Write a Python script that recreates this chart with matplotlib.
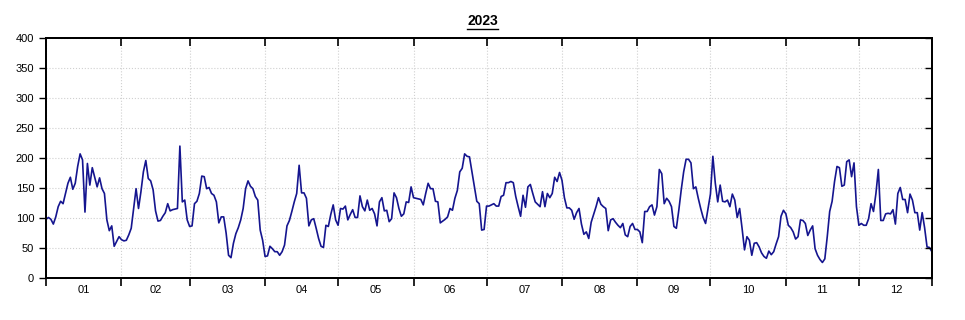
import numpy as np
import pandas as pd
import matplotlib
matplotlib.use("Agg")
import matplotlib.pyplot as plt
from matplotlib.lines import Line2D

year = 2023
title = "2023"
month_labels = ["01", "02", "03", "04", "05", "06", "07", "08", "09", "10", "11", "12"]

jan = [98, 101, 98, 90, 102, 119, 128, 124, 141, 158, 168, 148, 158, 186, 207, 197,
       110, 191, 155, 184, 168, 152, 167, 149, 141, 97, 79, 87, 53, 61, 69]
feb = [64, 62, 63, 72, 83, 116, 149, 116, 144, 177, 196, 166, 162, 147, 112, 95,
       96, 103, 109, 124, 112, 114, 115, 116, 220, 127, 130, 97]
mar = [86, 87, 124, 128, 141, 170, 169, 149, 151, 141, 138, 127, 92, 102, 102, 75,
       38, 34, 58, 74, 84, 97, 116, 149, 162, 153, 149, 136, 130, 80, 63]
apr = [36, 37, 53, 49, 44, 44, 38, 44, 55, 87, 96, 111, 127, 141, 188, 142,
       142, 133, 87, 97, 99, 83, 66, 53, 51, 88, 86, 106, 122, 97]
may = [88, 116, 115, 120, 97, 106, 114, 101, 101, 137, 119, 112, 130, 113, 116, 107,
       87, 127, 134, 112, 113, 94, 99, 142, 134, 116, 103, 107, 127, 126, 152]
jun = [134, 133, 132, 131, 122, 141, 158, 149, 149, 128, 127, 92, 95, 98, 102, 116,
       113, 133, 146, 177, 183, 207, 203, 202, 177, 152, 128, 124, 80, 81]
jul = [120, 120, 122, 124, 120, 120, 136, 138, 159, 159, 161, 159, 136, 119, 103, 138,
       118, 152, 156, 141, 127, 123, 119, 144, 119, 141, 134, 141, 168, 161, 176]
aug = [163, 134, 117, 117, 113, 98, 109, 116, 90, 73, 77, 66, 93, 106, 119, 134,
       123, 119, 116, 79, 97, 99, 93, 88, 84, 91, 72, 69, 86, 91, 81]
sep = [81, 77, 59, 111, 111, 119, 122, 105, 119, 181, 174, 124, 133, 128, 119, 86,
       83, 113, 147, 177, 198, 198, 192, 149, 152, 133, 116, 101, 91, 116]
oct_ = [140, 203, 158, 127, 155, 128, 127, 130, 119, 140, 130, 101, 116, 83, 47, 69,
        63, 38, 58, 59, 52, 42, 36, 33, 45, 39, 44, 57, 69, 103, 113]
nov = [107, 88, 84, 77, 65, 69, 97, 96, 91, 71, 80, 87, 49, 38, 31, 26,
       32, 69, 111, 128, 161, 186, 184, 153, 155, 194, 197, 169, 192, 119]
dec = [88, 91, 88, 88, 99, 124, 111, 141, 181, 96, 96, 107, 108, 107, 114, 90,
       141, 151, 131, 131, 109, 140, 130, 109, 109, 80, 109, 84, 52, 51, 44]

values = jan + feb + mar + apr + may + jun + jul + aug + sep + oct_ + nov + dec
dates = pd.date_range(f"{year}-01-01", periods=len(values), freq="D")

plt.rcParams['font.family'] = ['Liberation Sans', 'DejaVu Sans']

fig = plt.figure(figsize=(9.65, 3.2), dpi=100)
ax = fig.add_axes([0.0477, 0.131, 0.918, 0.75])

ax.plot(dates, values, color='#15158f', linewidth=1.2)

start = pd.Timestamp(f"{year}-01-01")
end = pd.Timestamp(f"{year}-12-31")
month_starts = pd.date_range(start, periods=12, freq="MS")
bounds = list(month_starts) + [pd.Timestamp(f"{year + 1}-01-01")]
mids = [a + (b - a) / 2 for a, b in zip(bounds[:-1], bounds[1:])]
major = list(month_starts) + [end]
yt = np.arange(0, 401, 50)

ax.set_xlim(start, end)
ax.set_ylim(0, 400)
ax.set_yticks(yt)
ax.set_xticks(major)
ax.set_xticklabels([])
ax.set_xticks(mids, minor=True)
ax.set_xticklabels(month_labels, minor=True)
ax.tick_params(axis='x', which='minor', length=0, labelsize=8, pad=5)
ax.tick_params(axis='x', which='major', direction='out', length=6, width=1.2)
ax.tick_params(axis='y', which='major', direction='out', length=5, labelsize=8,
               width=1.0)

# inward ticks on top and right
axr = ax.twinx()
axr.set_ylim(0, 400)
axr.set_yticks(yt)
axr.tick_params(axis='y', direction='in', length=5, width=1.0, labelright=False)
axt = ax.twiny()
axt.set_xlim(ax.get_xlim())
axt.set_xticks(ax.get_xticks())
axt.tick_params(axis='x', direction='in', length=6, width=1.2, labeltop=False)

ax.grid(True, which='major', color='#d0d0d0', linestyle=':', linewidth=0.8)
for a in (ax, axr, axt):
    for s in a.spines.values():
        s.set_linewidth(1.2)

t = fig.text(0.5, 0.935, title, ha='center', va='center', fontsize=10,
             fontweight='bold')
fig.canvas.draw()
bb = t.get_window_extent().transformed(fig.transFigure.inverted())
fig.add_artist(Line2D([bb.x0, bb.x1], [bb.y0 - 0.004, bb.y0 - 0.004],
                      color='black', linewidth=1.0, transform=fig.transFigure))

fig.savefig("out.png", dpi=100)
